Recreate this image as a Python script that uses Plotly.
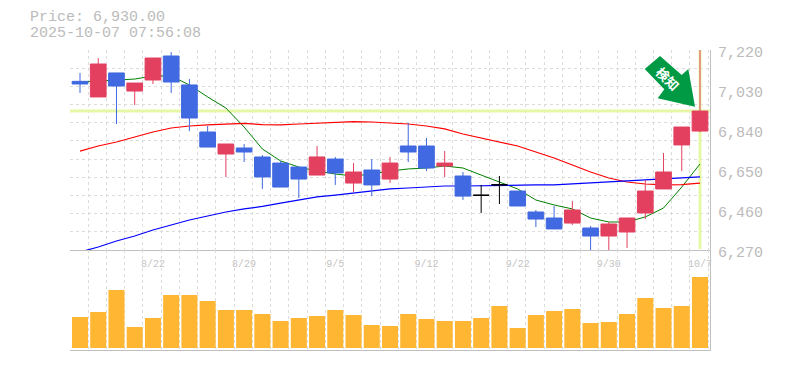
import plotly.graph_objects as go

# ---------- data ----------
title_price = "Price: 6,930.00"
title_time = "2025-10-07 07:56:08"

opens  = [7071, 6997, 7111, 7025, 7077.5, 7191.5, 7054, 6830.5, 6726, 6754.5, 6711.75, 6683, 6664, 6626, 6702, 6588, 6650, 6607, 6764, 6764, 6669, 6621.5, 6530, 6580, 6550, 6450.5, 6422, 6398, 6374.5, 6336.5, 6355.5, 6446, 6560, 6769, 6835]
closes = [7058.5, 7153.5, 7049, 7063, 7182, 7068, 6897, 6759, 6773.5, 6735.5, 6617, 6569, 6607, 6712, 6636, 6640.5, 6579, 6683, 6735.5, 6659.5, 6683, 6526, 6530, 6580, 6479, 6417, 6370, 6460, 6336.5, 6393.5, 6422, 6550, 6640.5, 6854, 6930]
highs  = [7111, 7182, 7111, 7063, 7182, 7210.5, 7082, 6859, 6773.5, 6773.5, 6721, 6693, 6664, 6764, 6712, 6683, 6702, 6712, 6873, 6802, 6740, 6640.5, 6579, 6621.5, 6550, 6460, 6479, 6503, 6384, 6403, 6422, 6602.5, 6731, 6854, 7220]
lows   = [7016, 6997, 6868.5, 6959, 7058.5, 7016, 6835, 6759, 6617, 6688, 6560, 6569, 6517, 6626, 6579, 6545, 6526, 6588, 6688, 6645, 6617, 6507.5, 6446, 6488.5, 6479, 6379, 6370, 6389, 6270, 6270, 6279.5, 6417, 6560, 6645, 6830]
doji   = [22, 23]

ma_green = [7068, 7072.75, 7077.5, 7082, 7096.5, 7096.5, 7054, 6997, 6944.5, 6854, 6750, 6693, 6664, 6645, 6631, 6621.5, 6631, 6645, 6655, 6659.5, 6669, 6659.5, 6626, 6593, 6560, 6507.5, 6484, 6465, 6422, 6403, 6403, 6427, 6469.5, 6569, 6678.5]
ma_red   = [6740, 6764, 6783, 6807, 6830.5, 6849.5, 6859, 6864, 6868.5, 6871, 6866, 6864, 6868.5, 6873, 6878, 6880, 6878, 6873, 6868.5, 6859, 6845, 6821, 6802, 6783, 6764, 6735.5, 6707, 6674, 6640.5, 6612, 6593, 6583.5, 6579, 6581, 6588]
ma_blue  = [6260.5, 6284, 6313, 6336.5, 6365, 6389, 6412.5, 6431.5, 6450.5, 6465, 6477, 6493, 6507.5, 6522, 6531, 6541, 6550, 6560, 6564.5, 6569, 6574, 6574, 6576, 6577, 6579, 6579, 6579, 6583.5, 6588, 6593, 6598, 6602.5, 6607, 6612, 6617]
volumes  = [31, 36, 58, 21, 30, 53, 53, 47, 38, 38, 34, 27, 30, 32, 38, 33, 23, 22, 34, 29, 27, 27, 30, 42, 20, 33, 37, 39, 25, 26, 34, 50, 40, 42, 71]

price_ticks = [7220, 7030, 6840, 6650, 6460, 6270]
date_ticks = [4, 9, 14, 19, 24, 29, 34]
date_labels = ["8/22", "8/29", "9/5", "9/12", "9/22", "9/30", "10/7"]

# ---------- styling ----------
W, H = 785, 374
L, R, T, B = 70, 710, 50, 350
SPLIT = 250
STEP = 18.235
BOTTOM_MARGIN = 24
RED, BLUE, BLACK = "#E34060", "#4169E1", "#000000"
GRID = "#dcdcdc"
TXT = "#bbbbbb"
LIME = "#E6F7A6"
MONO = "Liberation Mono, DejaVu Sans Mono, monospace"

xs = list(range(len(closes)))
x0 = (L - 80) / STEP
x1 = (R - 80) / STEP
vgrid = [x0 + k for k in range(36)]
ylo, yhi = min(price_ticks), max(price_ticks)
hgrid = [ylo + (yhi - ylo) * k / 11 for k in range(12)]

fig = go.Figure()

# reference lines at the last price / last session
fig.add_trace(go.Scatter(x=[x0, x1], y=[closes[-1], closes[-1]], mode="lines", line=dict(color=LIME, width=3),
                         hoverinfo="skip", showlegend=False, xaxis="x", yaxis="y"))
fig.add_trace(go.Scatter(x=[xs[-1], xs[-1]], y=[ylo + 5, yhi], mode="lines", line=dict(color=LIME, width=3),
                         hoverinfo="skip", showlegend=False, xaxis="x", yaxis="y"))

for vals, col, w in [(ma_green, "#008000", 1), (ma_red, "#FF0000", 1.2), (ma_blue, "#0000FF", 1.2)]:
    fig.add_trace(go.Scatter(x=xs, y=vals, mode="lines", line=dict(color=col, width=w), cliponaxis=False,
                             hoverinfo="skip", showlegend=False, xaxis="x", yaxis="y"))

def subset(idx):
    return dict(x=[xs[i] for i in idx], open=[opens[i] for i in idx], high=[highs[i] for i in idx],
                low=[lows[i] for i in idx], close=[closes[i] for i in idx])

normal = [i for i in xs if i not in doji]
# candles sit on an overlaid axis pair so that they cover the average lines
fig.add_trace(go.Candlestick(**subset(normal), whiskerwidth=0, showlegend=False,
                             increasing=dict(line=dict(color=RED, width=1), fillcolor=RED),
                             decreasing=dict(line=dict(color=BLUE, width=1), fillcolor=BLUE),
                             xaxis="x3", yaxis="y3"))
fig.add_trace(go.Candlestick(**subset(doji), whiskerwidth=0, showlegend=False,
                             increasing=dict(line=dict(color=BLACK, width=1), fillcolor=BLACK),
                             decreasing=dict(line=dict(color=BLACK, width=1), fillcolor=BLACK),
                             xaxis="x3", yaxis="y3"))

fig.add_trace(go.Bar(x=xs, y=volumes, marker=dict(color="#FFB733", line=dict(width=0)), width=0.88,
                     showlegend=False, hoverinfo="skip", xaxis="x2", yaxis="y2"))

# signal arrow
arrow_px = [(660, 56), (644.7, 69), (664.3, 89.3), (657.7, 98.3), (695, 106.7), (688.3, 69), (681.7, 75)]
def pap(p):
    return (p[0] - L) / (R - L), (B - p[1]) / (B - T)
path = "M " + " L ".join(f"{pap(p)[0]:.4f},{pap(p)[1]:.4f}" for p in arrow_px) + " Z"
fig.add_shape(type="path", xref="paper", yref="paper", path=path,
              fillcolor="#009944", line=dict(width=0), layer="above")
cx0, cy0 = pap((651.5, 65))
cx1, cy1 = pap((681.5, 95))
fig.add_shape(type="rect", xref="paper", yref="paper", x0=cx0, x1=cx1, y0=cy1, y1=cy0,
              fillcolor="rgba(0,0,0,0)", line=dict(width=0), layer="above",
              label=dict(text="検知", textangle=45, textposition="middle center",
                         font=dict(family="Noto Sans CJK JP", size=13, color="#ffffff", weight=700)))

# header text
for txt, y in [(title_price, 17.5), (title_time, 33)]:
    fig.add_annotation(xref="paper", yref="paper", x=(28 - L) / (R - L), y=(B - y) / (B - T), text=txt,
                       showarrow=False, xanchor="left", yanchor="middle",
                       font=dict(family=MONO, size=15, color=TXT))

minor_x = dict(tickvals=vgrid, showgrid=True, gridcolor=GRID, griddash="3px,3px", gridwidth=1, ticks="")
dom_top = [(B - SPLIT) / (B - T), 1]
fig.update_layout(
    width=W, height=H, autosize=False,
    margin=dict(l=L, r=W - R, t=T, b=BOTTOM_MARGIN, pad=0),
    paper_bgcolor="white", plot_bgcolor="white",
    boxmode="overlay", boxgap=0.14, boxgroupgap=0, showlegend=False,
    xaxis=dict(domain=[0, 1], anchor="y", range=[x0, x1], rangeslider=dict(visible=False),
               tickmode="array", tickvals=date_ticks, ticktext=date_labels, showgrid=False,
               tickfont=dict(family=MONO, size=10, color="#c4c4c4"), ticks="outside", ticklen=4, tickcolor="rgba(0,0,0,0)",
               showline=True, linecolor="#c0c0c0", linewidth=1, zeroline=False, minor=minor_x),
    yaxis=dict(domain=dom_top, anchor="x", side="right", range=[ylo, yhi],
               tickmode="array", tickvals=price_ticks, ticktext=[f"{v:,}" for v in price_ticks],
               showgrid=False, tickfont=dict(family=MONO, size=15, color=TXT), ticks="",
               ticklabelstandoff=4, ticklabelshift=2,
               showline=True, linecolor="#c0c0c0", linewidth=1, zeroline=False,
               minor=dict(tickvals=hgrid, showgrid=True, gridcolor=GRID, griddash="3px,3px", gridwidth=1, ticks="")),
    xaxis2=dict(domain=[0, 1], anchor="y2", range=[x0, x1], showticklabels=False, ticks="",
                showline=True, linecolor="#c0c0c0", linewidth=1, zeroline=False, showgrid=False,
                minor=minor_x),
    yaxis2=dict(domain=[0, (B - SPLIT) / (B - T)], anchor="x2", side="right", range=[-2, 98],
                showticklabels=False, ticks="", showgrid=False, zeroline=False,
                showline=True, linecolor="#c0c0c0", linewidth=1),
    xaxis3=dict(overlaying="x", anchor="y3", range=[x0, x1], visible=False, rangeslider=dict(visible=False)),
    yaxis3=dict(overlaying="y", anchor="x3", range=[ylo, yhi], visible=False, side="right"),
)

fig.write_html("out.html", config=dict(displayModeBar=False, responsive=False),
               default_width=f"{W}px", default_height=f"{H}px",
               post_script="document.documentElement.style.overflow='hidden';document.body.style.margin='0';document.body.style.overflow='hidden';window.scrollTo(0,0);")
